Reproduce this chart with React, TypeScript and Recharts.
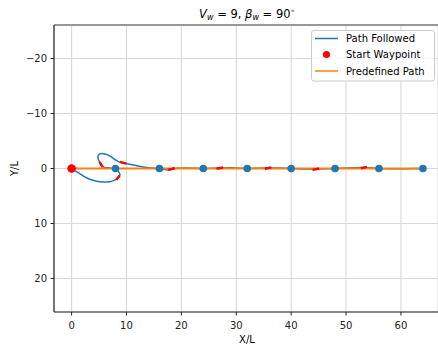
import React from 'react';
import {
  ComposedChart,
  Line,
  Scatter,
  XAxis,
  YAxis,
  CartesianGrid,
  ReferenceLine,
  Customized,
} from 'recharts';

const FONT = '"DejaVu Sans", sans-serif';
const BLUE = '#1f77b4';
const ORANGE = '#ff7f0e';
const RED = '#ff0000';

// Path followed: looping start section
const loopX = [0, 0.9, 2.1, 3.3, 4.55, 5.8, 6.9, 7.6, 8.3, 8.8, 8.6, 8.2, 7.6, 6.8, 6.0, 5.6, 5.2, 4.9, 4.8, 5.0, 5.5, 6.25, 7.1, 8.2, 9.2, 10.6, 11.9, 13.7, 16.0];
const loopY = [0, 0.55, 1.35, 1.95, 2.3, 2.45, 2.4, 2.2, 1.85, 1.2, 0.6, 0.15, -0.05, -0.12, -0.2, -0.4, -1.0, -1.6, -2.1, -2.55, -2.72, -2.6, -2.2, -1.45, -1.05, -0.76, -0.52, -0.2, -0.05];

// Path followed: nearly straight remainder
const straightX = [16, 17.5, 19, 21, 24, 25.5, 27, 29, 32, 33.5, 35.5, 38, 40, 42, 44.5, 46, 48, 50, 53, 55, 56, 58, 61, 64];
const straightY = [0, 0.25, -0.05, -0.1, 0, -0.05, -0.1, -0.15, 0, -0.05, -0.1, -0.1, 0, 0.1, 0.15, 0.05, 0, -0.1, -0.2, -0.1, 0, 0.05, 0.05, 0];

// Red heading dashes
const dashStartX = [5.65, 8.15, 8.8, 17.6, 26.4, 35.2, 43.9, 52.7];
const dashStartY = [-0.3, 2.05, -1.2, 0.3, 0.05, 0.05, 0.25, -0.05];
const dashEndX = [5.1, 8.75, 10.0, 18.8, 27.6, 36.4, 45.1, 53.8];
const dashEndY = [-1.15, 1.3, -0.88, -0.1, -0.2, -0.2, 0.0, -0.3];

// Waypoints / predefined path
const waypointsX = [0, 8, 16, 24, 32, 40, 48, 56, 64];
const waypointsY = [0, 0, 0, 0, 0, 0, 0, 0, 0];
const startX = [0];
const startY = [0];

const xTicks = [0, 10, 20, 30, 40, 50, 60];
const yTicks = [-20, -10, 0, 10, 20];
const xDomain = [-3.2, 66.75];
const yDomain = [-26.1, 26.1];

const toPts = (xs: number[], ys: number[]) => xs.map((x, i) => ({ x, y: ys[i] }));

const Decorations = () => (
  <g fontFamily={FONT}>
    <text x={247} y={17.5} textAnchor="middle" fontSize={11.5} fill="#000">
      <tspan fontStyle="italic">V</tspan>
      <tspan fontStyle="italic" fontSize={8} dy={2.5}>w</tspan>
      <tspan dy={-2.5}>{' = 9, '}</tspan>
      <tspan fontStyle="italic">β</tspan>
      <tspan fontStyle="italic" fontSize={8} dy={2.5}>w</tspan>
      <tspan dy={-2.5}>{' = 90'}</tspan>
      <tspan fontSize={7} dy={-4.5}>{'∘'}</tspan>
    </text>
    <text x={247} y={343} textAnchor="middle" fontSize={10} fill="#000">X/L</text>
    <text x={17.5} y={168.5} textAnchor="middle" fontSize={10} fill="#000" transform="rotate(-90 17.5 168.5)">Y/L</text>
    <g>
      <rect x={311.5} y={30.5} width={123} height={50.5} rx={2.5} fill="#fff" fillOpacity={0.8} stroke="#cccccc" strokeWidth={1} />
      <line x1={315} y1={38.5} x2={338} y2={38.5} stroke={BLUE} strokeWidth={1.5} />
      <circle cx={326.5} cy={54.5} r={3.6} fill={RED} />
      <line x1={315} y1={71} x2={338} y2={71} stroke={ORANGE} strokeWidth={1.5} />
      <text x={346} y={42} fontSize={10} fill="#000">Path Followed</text>
      <text x={346} y={58.2} fontSize={10} fill="#000">Start Waypoint</text>
      <text x={346} y={74.5} fontSize={10} fill="#000">Predefined Path</text>
    </g>
  </g>
);

export default function App() {
  const loopData = toPts(loopX, loopY);
  const straightData = toPts(straightX, straightY);
  const waypointData = toPts(waypointsX, waypointsY);
  const startData = toPts(startX, startY);
  const dashes = dashStartX.map((x, i) => [
    { x, y: dashStartY[i] },
    { x: dashEndX[i], y: dashEndY[i] },
  ]);

  return (
    <div style={{ position: 'absolute', left: 0, top: 0, width: 438, height: 350, background: '#fff' }}>
      <ComposedChart width={438} height={350} margin={{ top: 25, right: 0, bottom: 8, left: 14 }}>
        <CartesianGrid stroke="#d9d9d9" strokeWidth={1.1} />
        <XAxis
          dataKey="x"
          type="number"
          domain={xDomain}
          ticks={xTicks}
          interval={0}
          allowDataOverflow
          height={30}
          tickSize={3.5}
          tickMargin={6}
          axisLine={{ stroke: '#222' }}
          tickLine={{ stroke: '#222' }}
          tick={{ fontSize: 10, fill: '#222', fontFamily: FONT }}
        />
        <YAxis
          dataKey="y"
          type="number"
          domain={yDomain}
          reversed
          ticks={yTicks}
          interval={0}
          allowDataOverflow
          width={40}
          tickSize={3.5}
          tickMargin={3.5}
          axisLine={{ stroke: '#000' }}
          tickLine={{ stroke: '#222' }}
          tick={{ fontSize: 10, fill: '#222', fontFamily: FONT }}
          tickFormatter={(v: number) => String(v).replace('-', '\u2212')}
        />
        <ReferenceLine y={yDomain[0]} stroke="#444" strokeWidth={1.2} />
        <Line data={loopData} dataKey="y" type="natural" stroke={BLUE} strokeWidth={1.5} dot={false} activeDot={false} isAnimationActive={false} />
        <Line data={straightData} dataKey="y" type="linear" stroke={BLUE} strokeWidth={1.5} dot={false} activeDot={false} isAnimationActive={false} />
        <Scatter
          data={waypointData}
          dataKey="y"
          fill={BLUE}
          isAnimationActive={false}
          shape={(p: any) => <circle cx={p.cx} cy={p.cy} r={3.8} fill={BLUE} />}
        />
        <Line data={waypointData} dataKey="y" type="linear" stroke={ORANGE} strokeWidth={2} dot={false} activeDot={false} isAnimationActive={false} />
        {dashes.map((d, i) => (
          <Line key={i} data={d} dataKey="y" type="linear" stroke={RED} strokeWidth={2.5} dot={false} activeDot={false} isAnimationActive={false} />
        ))}
        <Scatter
          data={startData}
          dataKey="y"
          fill={RED}
          isAnimationActive={false}
          shape={(p: any) => <circle cx={p.cx} cy={p.cy} r={4.2} fill={RED} />}
        />
        <Customized component={Decorations} />
      </ComposedChart>
    </div>
  );
}
